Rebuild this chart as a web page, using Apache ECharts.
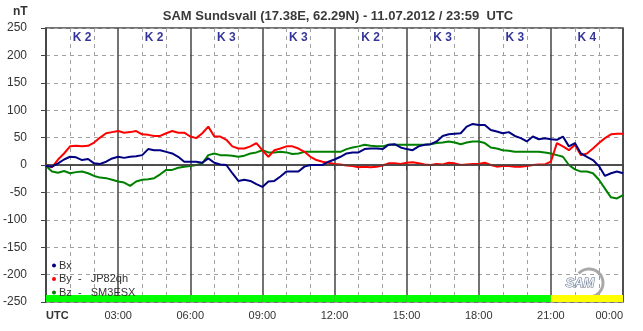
<!DOCTYPE html>
<html>
<head>
<meta charset="utf-8">
<title>SAM Sundsvall</title>
<script src="https://cdn.jsdelivr.net/npm/echarts@6/dist/echarts.min.js"></script>
<style>
  html, body { margin: 0; padding: 0; background: #fff; }
  #chart { width: 643px; height: 331px; }
</style>
</head>
<body>
<div id="chart"></div>
<script>
// samples every 15 minutes, 00:00 .. 24:00 UTC
const stepHours = 0.25;

const bx = [
  -2, -3, 3, 10, 15, 14, 9, 11, 3, 2, 6, 12, 15, 13, 15, 16, 18, 29, 27, 27, 24, 21, 15, 6, 6,
  6, 4, 12, 4, 1, 0, -15, -29, -27, -29, -35, -40, -30, -29, -21, -12, -12, -12, -3, 0, 0, 0, 6, 10,
  15, 21, 23, 23, 29, 30, 30, 29, 37, 38, 32, 29, 27, 34, 37, 38, 43, 53, 56, 57, 58, 70, 75, 73,
  73, 64, 61, 58, 60, 53, 49, 43, 52, 47, 49, 47, 46, 52, 34, 40, 21, 15, 9, -2, -20, -15, -12, -15
];
const by = [
  0, -4, 10, 21, 34, 35, 34, 35, 41, 50, 58, 60, 62, 59, 60, 62, 56, 55, 53, 53, 58, 62, 59, 59, 52,
  49, 58, 70, 52, 52, 46, 34, 30, 30, 34, 40, 27, 15, 27, 30, 34, 34, 30, 24, 15, 9, 6, 4, 2,
  1, -1, -2, -4, -3, -4, -3, -1, 3, 3, 2, 4, 5, 3, 1, 0, 2, 1, 4, 3, 0, 1, 2, 2,
  4, 0, -3, -2, -2, -3, -3, -2, 0, 1, 1, 6, 40, 34, 27, 37, 18, 21, 30, 40, 49, 56, 57, 57
];
const bz = [
  -2, -12, -14, -11, -15, -13, -12, -15, -20, -23, -24, -27, -30, -32, -38, -30, -27, -26, -24, -17, -9, -9, -5, -3, -2,
  0, 3, 18, 21, 18, 18, 17, 15, 17, 21, 23, 27, 23, 23, 24, 23, 20, 21, 24, 24, 24, 24, 24, 24,
  24, 29, 32, 34, 37, 35, 34, 34, 37, 37, 37, 37, 37, 37, 37, 38, 40, 41, 43, 41, 38, 41, 43, 43,
  40, 32, 30, 27, 26, 24, 24, 24, 24, 24, 23, 21, 18, 15, 0, -8, -12, -12, -15, -27, -43, -59, -61, -55
];

// K index per 3 hour block
const kIndex = [2, 2, 3, 3, 2, 3, 3, 4];
const seriesNames = ['Bx', 'By', 'Bz'];
const stations = ['', 'JP82qh', 'SM3ESX'];
const colors = ['#000080', '#ff0000', '#008000'];

const toPoints = arr => arr.map((v, i) => [i * stepHours, v]);

const kLabels = kIndex.map((k, i) => ({ value: [i * 3 + 1.5, 233], k: k }));
const kBars = kIndex.map((k, i) => [
  { xAxis: i * 3, yAxis: -250, itemStyle: { color: k >= 4 ? '#ffff00' : '#00ff00' } },
  { xAxis: i * 3 + 3, yAxis: -237 }
]);

const chart = echarts.init(document.getElementById('chart'));

const series = [bx, by, bz].map((d, i) => ({
  name: seriesNames[i],
  type: 'line',
  data: toPoints(d),
  showSymbol: false,
  color: colors[i],
  lineStyle: { width: 2, color: colors[i] },
  z: 5 - i
})).reverse();

series.push({
  name: 'k',
  type: 'scatter',
  data: kLabels,
  symbolSize: 0,
  silent: true,
  label: {
    show: true,
    position: 'inside',
    formatter: p => 'K ' + p.data.k,
    color: '#000080',
    fontSize: 12,
    fontWeight: 'bold',
    fontFamily: 'Liberation Sans, Arial, sans-serif'
  },
  markLine: {
    silent: true,
    symbol: 'none',
    label: { show: false },
    lineStyle: { color: '#444', width: 1.5, type: 'solid' },
    data: [{ yAxis: 0 }]
  },
  markArea: {
    silent: true,
    data: kBars
  }
});

chart.setOption({
  animation: false,
  textStyle: { fontFamily: 'Liberation Sans, Arial, sans-serif' },
  title: {
    text: 'SAM Sundsvall (17.38E, 62.29N) - 11.07.2012 / 23:59  UTC',
    left: 333,
    textAlign: 'center',
    top: 5,
    textStyle: { fontSize: 13, fontWeight: 'bold', color: '#3a3a3a' }
  },
  legend: {
    data: seriesNames,
    orient: 'vertical',
    left: 47,
    top: 255,
    icon: 'circle',
    itemWidth: 4,
    itemHeight: 4,
    itemGap: 2.5,
    textStyle: { fontSize: 11, color: '#333', padding: [0, 0, 0, -2] },
    formatter: name => {
      const s = stations[seriesNames.indexOf(name)];
      return s ? name + '  -   ' + s : name;
    }
  },
  grid: {
    left: 45, right: 20, top: 28, bottom: 29,
    show: true,
    borderColor: '#444',
    borderWidth: 1.5
  },
  xAxis: {
    type: 'value',
    min: 0,
    max: 24,
    interval: 3,
    axisLine: { show: true, lineStyle: { color: '#444', width: 1.5 } },
    axisTick: { show: true, length: 5, lineStyle: { color: '#444' } },
    minorTick: { show: true, splitNumber: 3, length: 5, lineStyle: { color: '#444' } },
    splitLine: { show: true, lineStyle: { color: '#444', width: 1.5 } },
    minorSplitLine: { show: true, lineStyle: { color: '#a0a0a0', type: [4, 4], width: 1 } },
    axisLabel: {
      margin: 8,
      fontSize: 11,
      color: '#333',
      alignMinLabel: 'left',
      alignMaxLabel: 'right',
      formatter: v => {
        if (v === 0) return '{b|UTC}';
        const h = v % 24;
        return (h < 10 ? '0' : '') + h + ':00';
      },
      rich: { b: { fontWeight: 'bold', fontSize: 11, color: '#333' } }
    }
  },
  yAxis: {
    type: 'value',
    min: -250,
    max: 250,
    interval: 50,
    axisLine: { show: true, lineStyle: { color: '#444', width: 1.5 } },
    axisTick: { show: true, length: 5, lineStyle: { color: '#444' } },
    splitLine: { show: true, lineStyle: { color: '#a0a0a0', type: [4, 4], width: 1 } },
    axisLabel: { margin: 19, fontSize: 12, color: '#333' }
  },
  graphic: [
    {
      type: 'text', left: 13, top: 6,
      style: { text: 'nT', fontSize: 12, fontWeight: 'bold', fill: '#333',
        fontFamily: 'Liberation Sans, Arial, sans-serif' }
    },
    {
      type: 'arc',
      shape: { cx: 589, cy: 283, r: 14, startAngle: -2.4, endAngle: 1.3 },
      style: { stroke: '#a8a8a8', lineWidth: 3, fill: null },
      silent: true
    },
    {
      type: 'text', left: 565, top: 276,
      style: { text: 'SAM', fontSize: 13, fontStyle: 'italic', fontWeight: 'bold',
        fill: '#eef2f7', stroke: '#5c6c84', lineWidth: 1,
        fontFamily: 'Liberation Sans, Arial, sans-serif' }
    }
  ],
  series: series
});
</script>
</body>
</html>
